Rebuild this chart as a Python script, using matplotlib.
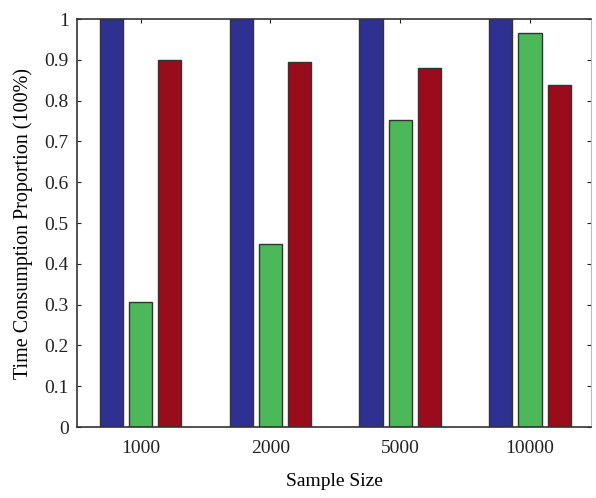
import numpy as np
import matplotlib.pyplot as plt

plt.rcParams['font.family'] = ['Liberation Serif', 'DejaVu Serif']

sizes = ['1000', '2000', '5000', '10000']
series_a = [1.0, 1.0, 1.0, 1.0]
series_b = [0.306, 0.449, 0.752, 0.966]
series_c = [0.900, 0.895, 0.880, 0.838]
colors = ['#2e3192', '#4cb85a', '#980c1b']

fig = plt.figure(figsize=(5.96, 4.98), dpi=100)
ax = fig.add_axes([77 / 596, 71 / 498, 514 / 596, 408 / 498])

x = np.arange(1, len(sizes) + 1)
w = 0.18
step = 0.225
for i, (vals, c) in enumerate(zip([series_a, series_b, series_c], colors)):
    ax.bar(x + (i - 1) * step, vals, width=w, color=c, edgecolor='#333333',
           linewidth=1.0, zorder=2)

ax.set_xlim(0.51, 4.47)
ax.set_ylim(0, 1)
ax.set_xticks(x)
ax.set_xticklabels(sizes)
ax.set_yticks(np.arange(0, 1.01, 0.1))
ax.set_yticklabels(['0', '0.1', '0.2', '0.3', '0.4', '0.5', '0.6', '0.7',
                    '0.8', '0.9', '1'])
ax.tick_params(direction='in', length=3, width=0.8, labelsize=14,
               top=True, right=True, colors='#222222')
ax.tick_params(axis='x', pad=9)
ax.tick_params(axis='y', pad=6)

for side in ['left', 'bottom', 'top']:
    ax.spines[side].set_color('#333333')
    ax.spines[side].set_linewidth(1.2)
ax.spines['right'].set_color('#bbbbbb')
ax.spines['right'].set_linewidth(0.8)

ax.set_xlabel('Sample Size', fontsize=14, labelpad=12)
ax.set_ylabel('Time Consumption Proportion (100%)', fontsize=14.5, labelpad=8)

fig.savefig('out.png', dpi=100)
